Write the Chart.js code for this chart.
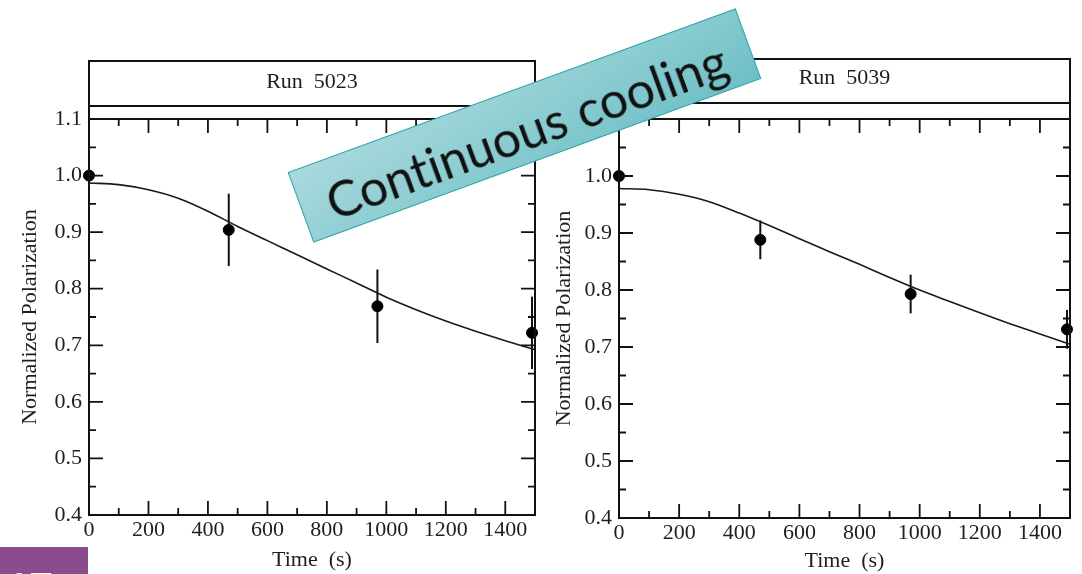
<!DOCTYPE html>
<html>
<head>
<meta charset="utf-8">
<script src="https://cdn.jsdelivr.net/npm/chart.js@4.4.0/dist/chart.umd.min.js"></script>
<style>
  html, body { margin: 0; padding: 0; background: #fff; }
  body { width: 1082px; height: 574px; position: relative; overflow: hidden; }
  .painel { position: absolute; top: 0; height: 574px; }
  #painel1 { left: 0; width: 545px; }
  #painel2 { left: 530px; width: 552px; }
  .faixa {
    position: absolute; left: 286px; top: 87.5px; width: 477px; height: 75px;
    box-sizing: border-box;
    transform: rotate(-20.1deg);
    background: linear-gradient(165deg, #a9d9dd 0%, #8ccdd2 50%, #6ebfc6 100%);
    border: 1.5px solid #2aa3a7;
    display: flex; align-items: center; justify-content: center;
    padding-top: 10px;
    font-family: Lato, "Noto Sans", sans-serif; font-size: 50px; color: #111;
    font-variant-ligatures: none; font-feature-settings: "liga" 0;
    white-space: nowrap; z-index: 5;
  }
  .etiqueta {
    position: absolute; left: 0; top: 547px; width: 88px; height: 27px;
    background: #8a4c8c; overflow: hidden; z-index: 5;
  }
  .etiqueta span {
    position: absolute; left: 6px; top: 20px;
    font-family: Lato, sans-serif; font-weight: bold; font-size: 40px; line-height: 40px; color: #fff;
  }
</style>
</head>
<body>
<div class="painel" id="painel1"><canvas id="grafico5023"></canvas></div>
<div class="painel" id="painel2"><canvas id="grafico5039"></canvas></div>
<div class="faixa">Continuous cooling</div>
<div class="etiqueta"><span>17</span></div>
<script>
// === DADOS ===
const tempos = [0, 470, 970, 1490];
const polarizacao5023 = [1.0, 0.904, 0.769, 0.722];
const erro5023 = [0.065, 0.064, 0.065, 0.064];
const polarizacao5039 = [1.0, 0.888, 0.793, 0.731];
const erro5039 = [0.033, 0.034, 0.034, 0.034];

// curvas de ajuste
const temposAjuste = [0, 100, 200, 300, 400, 500, 600, 700, 800, 900, 1000, 1100, 1200, 1300, 1400, 1500];
const ajuste5023 = [0.987, 0.984, 0.975, 0.96, 0.937, 0.91, 0.885, 0.86, 0.835, 0.81, 0.785, 0.763, 0.743, 0.725, 0.708, 0.692];
const ajuste5039 = [0.978, 0.976, 0.968, 0.955, 0.935, 0.913, 0.89, 0.867, 0.845, 0.822, 0.8, 0.78, 0.76, 0.741, 0.723, 0.705];

const FONTE = "'Liberation Serif', 'Times New Roman', serif";
const COR = "#111";
const COR_TEXTO = "#1e1e1e";

// === barras de erro (desenhadas antes dos pontos) ===
const barrasErro = {
  id: "barrasErro",
  beforeDatasetsDraw(chart) {
    const { ctx, scales: { x, y } } = chart;
    const ds = chart.data.datasets[1];
    ctx.save();
    ctx.strokeStyle = COR;
    ctx.lineWidth = 2;
    ds.data.forEach((p, i) => {
      const e = ds.erros[i];
      const px = x.getPixelForValue(p.x);
      ctx.beginPath();
      ctx.moveTo(px, y.getPixelForValue(p.y + e));
      ctx.lineTo(px, y.getPixelForValue(p.y - e));
      ctx.stroke();
    });
    ctx.restore();
  },
};

// === moldura, caixa do titulo e marcas para dentro ===
const moldura = {
  id: "moldura",
  afterDraw(chart, args, opts) {
    const { ctx, chartArea: a, scales: { x, y } } = chart;
    ctx.save();
    ctx.strokeStyle = COR;
    ctx.lineWidth = 2;
    ctx.strokeRect(a.left, opts.topo, a.right - a.left, a.top - opts.topo);
    ctx.beginPath();
    ctx.moveTo(a.left, opts.base);
    ctx.lineTo(a.right, opts.base);
    ctx.stroke();
    ctx.strokeRect(a.left, a.top, a.right - a.left, a.bottom - a.top);

    ctx.lineWidth = 1.8;
    const passoX = (x.ticks[1].value - x.ticks[0].value) / 2;
    x.ticks.forEach((t) => {
      [[t.value, 14], [t.value + passoX, 7]].forEach(([v, len]) => {
        if (v > x.max) return;
        const px = x.getPixelForValue(v);
        ctx.beginPath();
        ctx.moveTo(px, a.bottom); ctx.lineTo(px, a.bottom - len);
        ctx.moveTo(px, a.top); ctx.lineTo(px, a.top + len);
        ctx.stroke();
      });
    });
    const passoY = (y.ticks[1].value - y.ticks[0].value) / 2;
    y.ticks.forEach((t) => {
      [[t.value, 14], [t.value + passoY, 7]].forEach(([v, len]) => {
        if (v > y.max + 1e-9) return;
        const py = y.getPixelForValue(v);
        ctx.beginPath();
        ctx.moveTo(a.left, py); ctx.lineTo(a.left + len, py);
        ctx.moveTo(a.right, py); ctx.lineTo(a.right - len, py);
        ctx.stroke();
      });
    });
    ctx.restore();
  },
};

function criarGrafico(canvas, cfg) {
  return new Chart(canvas, {
    data: {
      datasets: [
        {
          type: "line",
          data: temposAjuste.map((t, i) => ({ x: t, y: cfg.ajuste[i] })),
          borderColor: "#1a1a1a",
          borderWidth: 1.6,
          pointRadius: 0,
          cubicInterpolationMode: "monotone",
          clip: false,
        },
        {
          type: "scatter",
          data: tempos.map((t, i) => ({ x: t, y: cfg.valores[i] })),
          erros: cfg.erros,
          backgroundColor: "#000",
          borderColor: "#000",
          pointRadius: 5.5,
          clip: false,
        },
      ],
    },
    options: {
      responsive: true,
      maintainAspectRatio: false,
      animation: false,
      layout: { padding: { left: 0, right: cfg.direita, top: 0, bottom: 0 } },
      plugins: {
        legend: { display: false },
        tooltip: { enabled: false },
        title: {
          display: true,
          fullSize: false,
          text: cfg.titulo,
          color: COR_TEXTO,
          font: { family: FONTE, size: 22, weight: "normal" },
          padding: { top: cfg.tituloTopo, bottom: cfg.tituloBase },
        },
        moldura: { topo: cfg.caixaTopo, base: cfg.caixaBase },
      },
      scales: {
        x: {
          type: "linear",
          min: 0,
          max: 1500,
          grid: { display: false, drawTicks: false },
          border: { display: false },
          ticks: {
            stepSize: 200,
            includeBounds: false,
            autoSkip: false,
            maxRotation: 0,
            padding: 2,
            color: COR_TEXTO,
            font: { family: FONTE, size: 22 },
            callback: (v) => String(v),
          },
          title: {
            display: true,
            text: "Time  (s)",
            color: COR_TEXTO,
            font: { family: FONTE, size: 22 },
            padding: { top: 0, bottom: cfg.xTituloBase },
          },
          afterFit(scale) { scale.height = cfg.alturaX; },
        },
        y: {
          type: "linear",
          min: 0.4,
          max: 1.1,
          grid: { display: false, drawTicks: false },
          border: { display: false },
          ticks: {
            stepSize: 0.1,
            includeBounds: false,
            padding: 7,
            color: COR_TEXTO,
            font: { family: FONTE, size: 22 },
            callback: (v) => Number(v).toFixed(1),
          },
          title: {
            display: true,
            text: "Normalized Polarization",
            color: COR_TEXTO,
            font: { family: FONTE, size: 22 },
            padding: { top: cfg.yTituloTopo, bottom: 0 },
          },
          afterFit(scale) { scale.width = 89; },
        },
      },
    },
    plugins: [barrasErro, moldura],
  });
}

document.addEventListener("DOMContentLoaded", () => {
  criarGrafico(document.getElementById("grafico5023"), {
    titulo: "Run  5023",
    valores: polarizacao5023,
    erros: erro5023,
    ajuste: ajuste5023,
    direita: 10,
    tituloTopo: 68.8,
    tituloBase: 23.8,
    caixaTopo: 61,
    caixaBase: 106,
    alturaX: 59,
    xTituloBase: 1,
    yTituloTopo: 17,
  });
  criarGrafico(document.getElementById("grafico5039"), {
    titulo: "Run  5039",
    valores: polarizacao5039,
    erros: erro5039,
    ajuste: ajuste5039,
    direita: 12,
    tituloTopo: 64.8,
    tituloBase: 27.8,
    caixaTopo: 59,
    caixaBase: 103,
    alturaX: 56,
    xTituloBase: 0,
    yTituloTopo: 21,
  });
});
</script>
</body>
</html>
